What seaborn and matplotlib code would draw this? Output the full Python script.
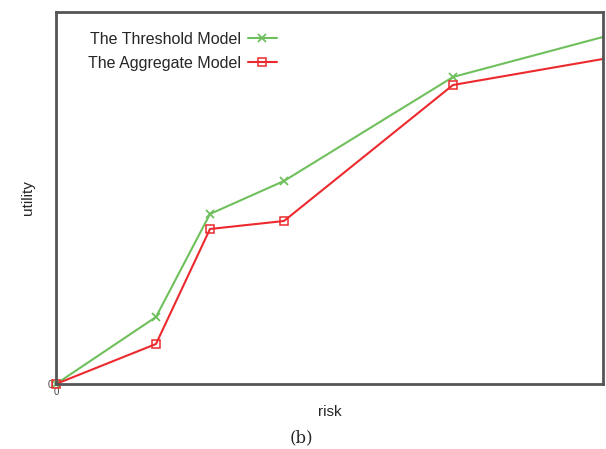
import matplotlib
matplotlib.use("Agg")
import matplotlib.pyplot as plt
import seaborn as sns

# values (arbitrary units, no ticks in the original)
risk = [0, 1.0, 1.54, 2.28, 3.97, 5.47]
threshold_utility = [0, 0.67, 1.70, 2.03, 3.07, 3.47]
aggregate_utility = [0, 0.40, 1.55, 1.63, 2.99, 3.25]

sns.set_style("white")
plt.rcParams['font.family'] = ['Liberation Sans', 'DejaVu Sans']

fig = plt.figure(figsize=(6.06, 4.49), dpi=100)
ax = fig.add_axes([0.0924, 0.1448, 0.9026, 0.8285])

green = '#6fc05c'
red = '#ec2a2e'

sns.lineplot(x=risk, y=threshold_utility, ax=ax, color=green, lw=1.5,
             marker='x', markersize=6, mew=1.3, mec=green, markevery=slice(0, 5),
             label='The Threshold Model', clip_on=False)
sns.lineplot(x=risk, y=aggregate_utility, ax=ax, color=red, lw=1.5,
             marker='s', markersize=6, mfc='none', mew=1.1, mec=red,
             markevery=slice(0, 5), label='The Aggregate Model', clip_on=False)

ax.set_xlim(0, 5.47)
ax.set_ylim(0, 3.72)
ax.set_xticks([0])
ax.set_yticks([0])
ax.tick_params(length=0, labelsize=7, colors='#444444', pad=2)

for s in ax.spines.values():
    s.set_color('#555555')
    s.set_linewidth(2)

ax.set_xlabel('risk', fontsize=11, labelpad=6)
ax.set_ylabel('utility', fontsize=11, labelpad=9)

leg = ax.legend(loc='upper left', bbox_to_anchor=(0.033, 0.985), frameon=False,
                markerfirst=False, fontsize=11.5, handlelength=1.8,
                handletextpad=0.4, labelspacing=0.55)

fig.text(0.497, 0.015, '(b)', family='DejaVu Serif', fontsize=12, ha='center')

fig.savefig('out.png', dpi=100)
